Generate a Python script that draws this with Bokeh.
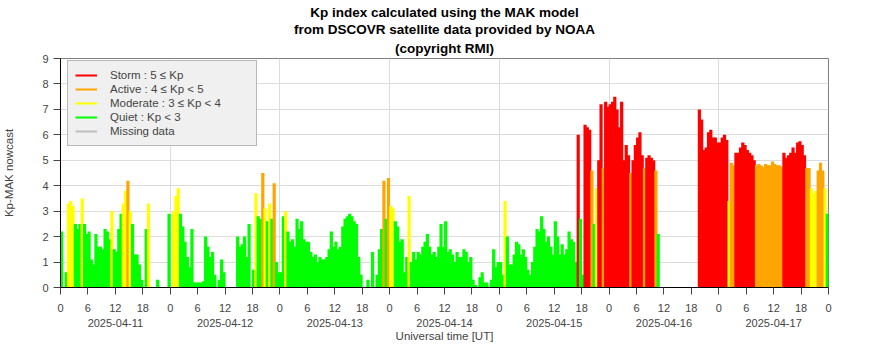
from bokeh.plotting import figure
from bokeh.models import (ColumnDataSource, FixedTicker, LinearAxis, Range1d,
                          Legend, LegendItem, Title)
from bokeh.embed import file_html
from bokeh.resources import INLINE

# ---------------- data (Kp-MAK nowcast, 30-minute bins, 0 = no data drawn) -------------
dates = ["2025-04-11", "2025-04-12", "2025-04-13", "2025-04-14",
         "2025-04-15", "2025-04-16", "2025-04-17"]
hour_labels = [0, 6, 12, 18]
bin_hours = 0.5

kp_0411 = [2.2, 0, 0.6, 3.3, 3.4, 3.2, 2.5, 2.3, 2.5, 3.5,
           2.5, 2.1, 2.2, 1.1, 0.9, 2.1, 1.6, 1.6, 1.5, 2.3,
           2.2, 1.9, 3.0, 1.5, 1.4, 2.3, 2.9, 3.3, 3.8, 4.2,
           3.0, 2.5, 1.3, 1.3, 0.9, 0.3, 0, 2.3, 3.3, 0,
           0, 0, 0.3, 0, 0, 0, 0, 2.9]
kp_0412 = [0, 3.0, 3.6, 3.9, 2.9, 2.4, 1.8, 1.2, 0.8, 2.3,
           0.2, 0.2, 0.2, 0.2, 0.25, 2.0, 1.6, 1.2, 1.4, 0.5,
           0, 0.3, 1.1, 0.6, 0, 0, 0, 0, 0, 2.0,
           1.6, 1.7, 2.0, 1.2, 2.5, 0, 0.7, 3.7, 2.8, 2.7,
           4.5, 3.1, 2.6, 3.3, 2.7, 4.1, 1.0, 0.6]
kp_0413 = [0.6, 2.8, 3.0, 2.2, 1.8, 1.9, 1.6, 2.7, 2.3, 2.6,
           1.9, 1.8, 1.8, 1.4, 1.2, 1.3, 1.0, 1.2, 1.1, 1.1,
           1.2, 1.5, 2.2, 1.6, 1.8, 1.5, 1.6, 2.4, 2.7, 2.8,
           2.9, 2.8, 2.6, 2.5, 1.2, 0.5, 0, 0, 0.3, 0,
           1.4, 0, 0.5, 1.5, 2.3, 4.2, 2.7, 4.3]
kp_0414 = [3.2, 3.1, 2.6, 2.4, 1.8, 1.9, 0.6, 1.2, 3.6, 1.0,
           1.4, 1.1, 1.4, 1.3, 1.6, 1.8, 2.1, 1.6, 1.3, 1.4,
           1.2, 1.6, 2.5, 1.6, 2.6, 1.4, 1.5, 1.3, 1.0, 1.4,
           1.2, 1.2, 1.5, 1.4, 1.0, 1.2, 0.3, 0.1, 0, 0.4,
           0.6, 0.2, 0.2, 0, 0.3, 1.5, 0.8, 1.0]
kp_0415 = [1.0, 0.5, 3.4, 2.0, 0.9, 0.9, 1.3, 1.8, 1.7, 1.3,
           1.5, 1.2, 0.7, 0.5, 1.0, 1.6, 2.3, 2.2, 2.8, 2.3,
           1.8, 2.0, 1.6, 1.3, 2.6, 2.0, 1.3, 1.7, 1.3, 1.5,
           2.2, 1.9, 1.8, 1.0, 6.0, 2.7, 0.5, 6.4, 6.3, 6.2,
           4.6, 2.5, 3.9, 5.0, 7.2, 4.7, 7.3, 7.1]
kp_0416 = [7.2, 7.3, 7.5, 7.0, 6.3, 7.3, 5.0, 5.6, 5.2, 4.5,
           5.0, 5.6, 5.9, 6.1, 5.2, 4.7, 5.1, 5.2, 5.1, 5.0,
           4.6, 2.1, 0, 0, 0, 0, 0, 0, 0, 0,
           0, 0, 0, 0, 0, 0, 0, 0, 0, 7.0,
           6.6, 5.4, 5.5, 6.1, 6.2, 5.9, 5.9, 5.7]
kp_0417 = [5.7, 5.9, 6.0, 5.8, 3.4, 4.9, 4.8, 5.3, 5.3, 5.5,
           5.7, 5.6, 5.4, 5.3, 5.2, 5.0, 4.8, 4.85, 4.8, 4.75,
           4.85, 4.8, 4.8, 4.95, 4.85, 4.8, 4.8, 4.75, 5.3, 5.1,
           5.2, 5.3, 5.5, 5.3, 5.7, 5.75, 5.6, 5.2, 4.7, 4.7,
           3.9, 3.7, 3.8, 4.6, 4.9, 4.6, 3.9, 2.9]

legend_labels = ["Storm : 5 \u2264 Kp", "Active : 4 \u2264 Kp < 5",
                 "Moderate : 3 \u2264 Kp < 4", "Quiet : Kp < 3", "Missing data"]
level_colors = ["#ff0000", "#ffa500", "#ffff00", "#00ff00", "#bebebe"]
level_bounds = [5, 4, 3]

title_lines = ["Kp index calculated using the MAK model",
               "from DSCOVR satellite data provided by NOAA",
               "(copyright RMI)"]

# ---------------- build source ----------------
days = [kp_0411, kp_0412, kp_0413, kp_0414, kp_0415, kp_0416, kp_0417]
t, kp, col = [], [], []
for d, vals in enumerate(days):
    for i, v in enumerate(vals):
        if v <= 0:
            continue
        t.append(24 * d + bin_hours * (i + 0.5))
        kp.append(v)
        c = level_colors[3]
        for b, cc in zip(level_bounds, level_colors[:3]):
            if v >= b:
                c = cc
                break
        col.append(c)
src = ColumnDataSource(dict(t=t, kp=kp, color=col))

FONT = "Liberation Sans"
ndays = len(days)

p = figure(width=886, height=360, output_backend="svg", toolbar_location=None,
           x_range=Range1d(0, 24 * ndays), y_range=Range1d(0, 9),
           min_border_left=59, min_border_right=58, min_border_top=58,
           min_border_bottom=73, background_fill_color="white",
           border_fill_color="white")
p.title.text = ""
p.title.visible = False
p.outline_line_color = "#7f7f7f"

for k, line in enumerate(reversed(title_lines)):
    p.add_layout(Title(text=line, align="center", text_font=FONT,
                       text_font_size="13.5px", text_font_style="bold",
                       text_color="black", standoff=(5 if k == 0 else 0),
                       offset=0), "above")

p.vbar(x="t", top="kp", width=bin_hours * 1.4, fill_color="color",
       line_color=None, source=src)

# grids
p.xgrid.ticker = FixedTicker(ticks=[24 * d for d in range(ndays + 1)])
p.ygrid.ticker = FixedTicker(ticks=list(range(10)))
p.xgrid.grid_line_color = "#dcdcdc"
p.ygrid.grid_line_color = "#dcdcdc"

# y axis
ya = p.yaxis[0]
ya.ticker = FixedTicker(ticks=list(range(10)))
ya.axis_label = "Kp-MAK nowcast"
ya.axis_label_text_font = FONT
ya.axis_label_text_font_size = "11.5px"
ya.axis_label_text_font_style = "normal"
ya.axis_label_standoff = 24
ya.major_label_text_font = FONT
ya.major_label_text_font_size = "11px"
ya.major_label_standoff = 5
ya.major_tick_out = 7
ya.major_tick_in = 0
ya.minor_tick_line_color = None
ya.axis_line_color = "black"
ya.major_tick_line_color = "#444444"

# x axis: hours
hour_ticks = list(range(0, 24 * ndays + 1, 6))
xa = p.xaxis[0]
xa.ticker = FixedTicker(ticks=hour_ticks)
xa.major_label_overrides = {h: str(h % 24) for h in hour_ticks}
xa.major_label_text_font = FONT
xa.major_label_text_font_size = "11px"
xa.major_label_standoff = 9
xa.major_tick_out = 7
xa.major_tick_in = 0
xa.minor_tick_line_color = None
xa.axis_line_color = "black"
xa.major_tick_line_color = "#444444"

# x axis: dates
date_ticks = [24 * d + 12 for d in range(ndays)]
xa2 = LinearAxis(ticker=FixedTicker(ticks=date_ticks),
                 major_label_overrides={tk: dates[i] for i, tk in enumerate(date_ticks)},
                 major_tick_out=0, major_tick_in=0, minor_tick_line_color=None,
                 axis_line_color=None, major_label_standoff=4,
                 major_label_text_font=FONT, major_label_text_font_size="11px",
                 axis_label="Universal time [UT]", axis_label_text_font=FONT,
                 axis_label_text_font_size="11.5px",
                 axis_label_text_font_style="normal", axis_label_standoff=0)
p.add_layout(xa2, "below")

# legend
items = []
for lab, c in zip(legend_labels, level_colors):
    r = p.line(x=[float("nan")], y=[float("nan")], line_color=c, line_width=2)
    items.append(LegendItem(label=lab, renderers=[r]))
leg = Legend(items=items, location=(7, 141), background_fill_color="#f0f0f0",
             background_fill_alpha=1, border_line_color="#808080",
             label_text_font=FONT, label_text_font_size="11.5px",
             glyph_width=22, glyph_height=14, label_height=14, spacing=0,
             padding=7, margin=0, label_standoff=13, label_width=139)
p.add_layout(leg, "center")

open("out.html", "w").write(file_html(p, INLINE))
